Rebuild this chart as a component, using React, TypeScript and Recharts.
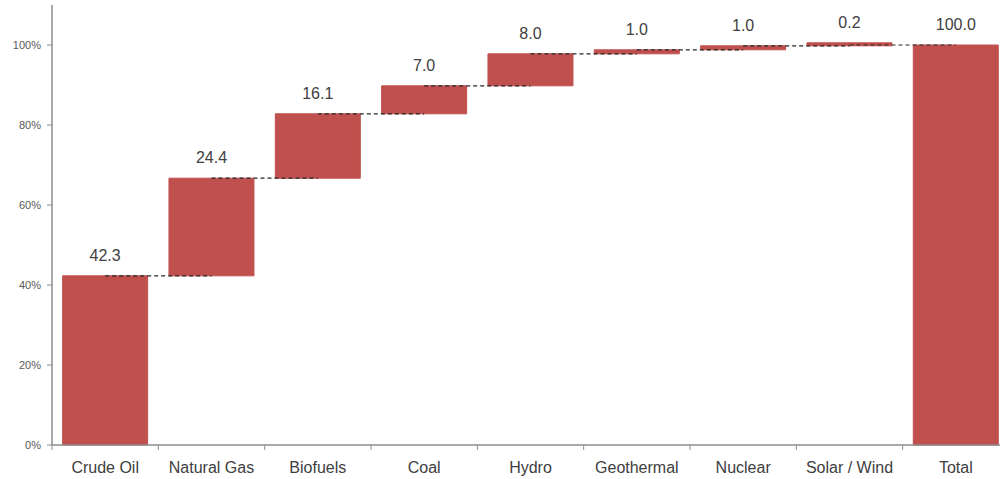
import React from "react";
import {
  BarChart,
  Bar,
  XAxis,
  YAxis,
  ReferenceLine,
  LabelList,
} from "recharts";

// Energy source contributions (percent of total)
const categories = [
  "Crude Oil",
  "Natural Gas",
  "Biofuels",
  "Coal",
  "Hydro",
  "Geothermal",
  "Nuclear",
  "Solar / Wind",
  "Total",
];
const shares = [42.3, 24.4, 16.1, 7.0, 8.0, 1.0, 1.0, 0.2, 100.0];
const yTicks = [0, 20, 40, 60, 80, 100];

const BAR_COLOR = "#C0504D";
const AXIS_COLOR = "#8C8C8C";
const TEXT_COLOR = "#404040";
const FONT = "'Liberation Sans', Arial, sans-serif";

// Waterfall rows: an invisible base plus the visible step
const totalIndex = categories.length - 1;
const rows = (() => {
  let running = 0;
  return categories.map((name, i) => {
    const value = shares[i];
    if (i === totalIndex) {
      return { name, base: 0, value, top: value };
    }
    const row = { name, base: running, value, top: running + value };
    running += value;
    return row;
  });
})();

// Connectors run from the middle of one step to the middle of the next
const connectors = rows.slice(0, -1).map((r, i) => ({
  from: r.name,
  to: rows[i + 1].name,
  y: r.top,
}));

const CategoryTick = (props: any) => {
  const { x, y, payload, index } = props;
  const half = payload && payload.offset ? payload.offset : 0;
  return (
    <g>
      {index === 0 && (
        <line x1={x - half} y1={y - 8} x2={x - half} y2={y - 3} stroke={AXIS_COLOR} />
      )}
      <line x1={x + half} y1={y - 8} x2={x + half} y2={y - 3} stroke={AXIS_COLOR} />
      <text
        x={x}
        y={y + 20}
        textAnchor="middle"
        fill={TEXT_COLOR}
        fontSize={16}
        fontFamily={FONT}
      >
        {payload.value}
      </text>
    </g>
  );
};

const PercentTick = (props: any) => {
  const { x, y, payload } = props;
  return (
    <text
      x={x}
      y={y}
      dy={4}
      textAnchor="end"
      fill="#595959"
      fontSize={11}
      fontFamily={FONT}
    >
      {`${payload.value}%`}
    </text>
  );
};

export default function App() {
  return (
    <div
      style={{
        position: "absolute",
        left: 0,
        top: 0,
        width: 1000,
        height: 479,
        overflow: "hidden",
        background: "#fff",
      }}
    >
      <BarChart
        width={1009}
        height={479}
        data={rows}
        margin={{ top: 5, right: 0, bottom: 0, left: 0 }}
        barCategoryGap="10%"
      >
        <XAxis
          dataKey="name"
          type="category"
          height={34}
          axisLine={{ stroke: AXIS_COLOR, strokeWidth: 1.5 }}
          tickLine={false}
          tick={<CategoryTick />}
          interval={0}
        />
        <YAxis
          type="number"
          domain={[0, 110]}
          ticks={yTicks}
          width={52}
          tickSize={5}
          tickMargin={6}
          axisLine={{ stroke: AXIS_COLOR, strokeWidth: 1.5 }}
          tickLine={{ stroke: AXIS_COLOR }}
          tick={<PercentTick />}
        />
        <Bar dataKey="base" stackId="w" fill="transparent" isAnimationActive={false} />
        <Bar
          dataKey="value"
          stackId="w"
          fill={BAR_COLOR}
          stroke={BAR_COLOR}
          strokeWidth={1}
          minPointSize={3}
          isAnimationActive={false}
        >
          <LabelList
            dataKey="value"
            position="top"
            offset={15}
            formatter={(v: any) => Number(v).toFixed(1)}
            style={{ fontSize: 16, fill: TEXT_COLOR, fontFamily: FONT }}
          />
        </Bar>
        {connectors.map((c) => (
          <ReferenceLine
            key={c.from}
            segment={[
              { x: c.from, y: c.y },
              { x: c.to, y: c.y },
            ]}
            stroke="#262626"
            strokeWidth={1.2}
            strokeDasharray="4 3"
            ifOverflow="visible"
          />
        ))}
      </BarChart>
    </div>
  );
}
